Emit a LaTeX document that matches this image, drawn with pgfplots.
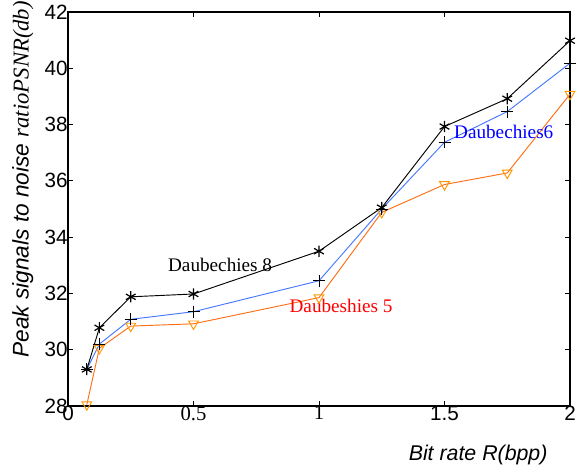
\documentclass[border=0pt]{standalone}
\usepackage{fontspec}
\setmainfont{Liberation Sans}
\newfontfamily\timesf{Liberation Serif}
\usepackage{pgfplots}
\pgfplotsset{compat=1.18}
\definecolor{dblue}{RGB}{70,120,255}
\definecolor{dorange}{RGB}{255,110,20}
\definecolor{dmark}{RGB}{255,150,0}
\begin{document}
\begin{tikzpicture}
\path[use as bounding box] (-51pt,-48.75pt) rectangle (385.5pt,304.5pt);
\begin{axis}[
  scale only axis,
  width=376.5pt, height=295.5pt,
  xmin=0, xmax=2, ymin=28, ymax=42,
  xtick={0,0.5,1,1.5,2},
  xticklabels={0,{\timesf 0.5},{\timesf 1},1.5,2},
  ytick={28,30,...,42},
  tick align=inside,
  major tick length=4pt,
  axis line style={line width=1pt},
  tick style={black, line width=0.6pt},
  /pgf/number format/assume math mode=true,
  ticklabel style={font=\fontsize{15.5}{17}\selectfont},
  xticklabel style={inner sep=1pt, yshift=1pt},
  yticklabel style={inner sep=1pt, xshift=1pt},
  xlabel={\itshape Bit rate R(bpp)},
  xlabel style={font=\fontsize{16}{18}\selectfont, at={(axis description cs:0.817,-0.124)}, anchor=center},
  ylabel={{\itshape Peak signals to noise\ }{\timesf\itshape ratioPSNR(db)}},
  ylabel style={font=\fontsize{17}{19}\selectfont, at={(axis description cs:-0.09,0.575)}, anchor=center},
  clip=false,
]
\addplot[dorange, line width=0.7pt, mark=triangle, mark size=4.2pt, mark options={dmark, rotate=180, solid, line width=0.7pt}] coordinates {
(0.075,28.05) (0.125,30.05) (0.25,30.84) (0.5,30.92) (1.0,31.85) (1.25,34.88) (1.5,35.87) (1.75,36.28) (2.0,39.08)};
\addplot[dblue, line width=0.7pt, mark=+, mark size=4.5pt, mark options={black, line width=0.7pt}] coordinates {
(0.075,29.3) (0.125,30.2) (0.25,31.08) (0.5,31.35) (1.0,32.45) (1.25,35.0) (1.5,37.37) (1.75,38.46) (2.0,40.18)};
\addplot[black, line width=0.7pt, mark=asterisk, mark size=4.2pt, mark options={black, line width=0.9pt}] coordinates {
(0.075,29.3) (0.125,30.78) (0.25,31.88) (0.5,31.98) (1.0,33.5) (1.25,35.05) (1.5,37.93) (1.75,38.92) (2.0,40.98)};
\node[font=\timesf\fontsize{14.4}{16}\selectfont, black] at (axis cs:0.606,33.0) {Daubechies 8};
\node[font=\timesf\fontsize{14.4}{16}\selectfont, red] at (axis cs:1.088,31.55) {Daubeshies 5};
\node[font=\timesf\fontsize{14.4}{16}\selectfont, blue] at (axis cs:1.736,37.75) {Daubechies6};
\end{axis}
\end{tikzpicture}
\end{document}
